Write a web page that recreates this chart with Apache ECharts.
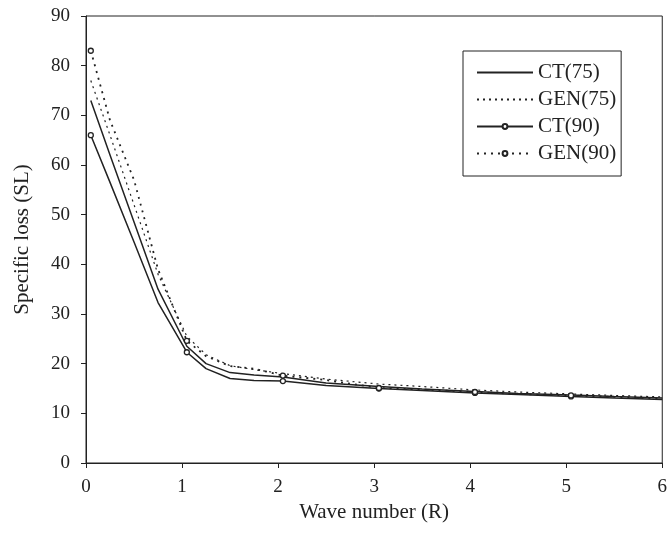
<!DOCTYPE html>
<html>
<head>
<meta charset="utf-8">
<script src="https://cdn.jsdelivr.net/npm/echarts@6/dist/echarts.min.js"></script>
<style>
  html, body { margin: 0; padding: 0; background: #fff; }
  #chart { width: 670px; height: 534px; }
</style>
</head>
<body>
<div id="chart"></div>
<script>
// wave number positions of the sampled points
const waveNumbers = [0.05, 0.25, 0.5, 0.75, 1.05, 1.25, 1.5, 1.75, 2.05, 2.5, 3.05, 3.5, 4.05, 4.5, 5.05, 5.5, 6.0];
// points that carry a circle marker in the *(90) series
const markerAt = [0.05, 1.05, 2.05, 3.05, 4.05, 5.05];

const ct75  = [73, 62, 48.5, 35, 23.5, 20, 18.2, 17.7, 17.3, 16.1, 15.4, 14.9, 14.4, 14.0, 13.7, 13.4, 13.1];
const gen75 = [77, 66, 52, 38, 25.5, 21.8, 19.6, 18.8, 18.0, 16.9, 15.9, 15.4, 14.7, 14.3, 13.9, 13.6, 13.3];
const ct90  = [66, 56.5, 44.5, 32.3, 22.3, 19.0, 17.0, 16.6, 16.5, 15.6, 15.0, 14.6, 14.1, 13.8, 13.4, 13.1, 12.8];
const gen90 = [83, 69, 57, 39, 24.6, 21.5, 19.5, 19.0, 17.6, 16.7, 15.1, 14.8, 14.3, 13.9, 13.6, 13.3, 13.0];

const yTicks = [0, 10, 20, 30, 40, 50, 60, 70, 80, 90];
const xTicks = [0, 1, 2, 3, 4, 5, 6];

const ink = '#222';
const font = '"Liberation Serif", "DejaVu Serif", serif';

function plain(ys) {
    return waveNumbers.map((x, i) => [x, ys[i]]);
}
function marked(ys) {
    return waveNumbers.map((x, i) => {
        const item = {value: [x, ys[i]]};
        if (markerAt.indexOf(x) < 0) item.symbol = 'none';
        return item;
    });
}

const myChart = echarts.init(document.getElementById('chart'));
myChart.setOption({
    animation: false,
    backgroundColor: '#fff',
    textStyle: {fontFamily: font, color: ink},
    grid: {
        left: 86,
        right: 3,
        top: 16,
        bottom: 71,
        show: true,
        borderColor: ink,
        borderWidth: 1
    },
    legend: {
        orient: 'vertical',
        left: 463,
        top: 51,
        padding: [11, 5, 12, 13],
        itemGap: 6,
        itemWidth: 56,
        itemHeight: 6,
        borderColor: ink,
        borderWidth: 1,
        textStyle: {fontFamily: font, fontSize: 21, color: ink},
        data: [
            // plain lines: hide the legend marker
            {name: 'CT(75)', itemStyle: {opacity: 0}},
            {name: 'GEN(75)', itemStyle: {opacity: 0}},
            'CT(90)',
            'GEN(90)'
        ]
    },
    xAxis: {
        type: 'value',
        min: xTicks[0],
        max: xTicks[xTicks.length - 1],
        interval: 1,
        name: 'Wave number (R)',
        nameLocation: 'middle',
        nameGap: 31,
        nameTextStyle: {fontFamily: font, fontSize: 21, color: ink},
        splitLine: {show: false},
        axisLine: {lineStyle: {color: ink, width: 1}},
        axisTick: {inside: false, length: 5, lineStyle: {color: ink}},
        axisLabel: {fontFamily: font, fontSize: 19, color: ink, margin: 15}
    },
    yAxis: {
        type: 'value',
        min: yTicks[0],
        max: yTicks[yTicks.length - 1],
        interval: 10,
        name: 'Specific loss (SL)',
        nameLocation: 'middle',
        nameGap: 53,
        nameTextStyle: {fontFamily: font, fontSize: 21, color: ink},
        splitLine: {show: false},
        axisLine: {show: true, lineStyle: {color: ink, width: 1}},
        axisTick: {show: true, inside: false, length: 5, lineStyle: {color: ink}},
        axisLabel: {fontFamily: font, fontSize: 19, color: ink, margin: 16}
    },
    series: [
        {
            name: 'CT(75)',
            type: 'line',
            symbol: 'none',
            color: ink,
            lineStyle: {color: ink, width: 1.5},
            data: plain(ct75)
        },
        {
            name: 'GEN(75)',
            type: 'line',
            symbol: 'none',
            color: ink,
            lineStyle: {color: ink, width: 1.2, type: [2, 4]},
            data: plain(gen75)
        },
        {
            name: 'CT(90)',
            type: 'line',
            symbol: 'circle',
            symbolSize: 5,
            showSymbol: true,
            color: ink,
            itemStyle: {color: '#fff', borderColor: ink, borderWidth: 1.3},
            lineStyle: {color: ink, width: 1.5},
            data: marked(ct90)
        },
        {
            name: 'GEN(90)',
            type: 'line',
            symbol: 'circle',
            symbolSize: 5,
            showSymbol: true,
            color: ink,
            itemStyle: {color: '#fff', borderColor: ink, borderWidth: 1.3},
            lineStyle: {color: ink, width: 1.8, type: [2, 5]},
            data: marked(gen90)
        }
    ]
});
</script>
</body>
</html>
